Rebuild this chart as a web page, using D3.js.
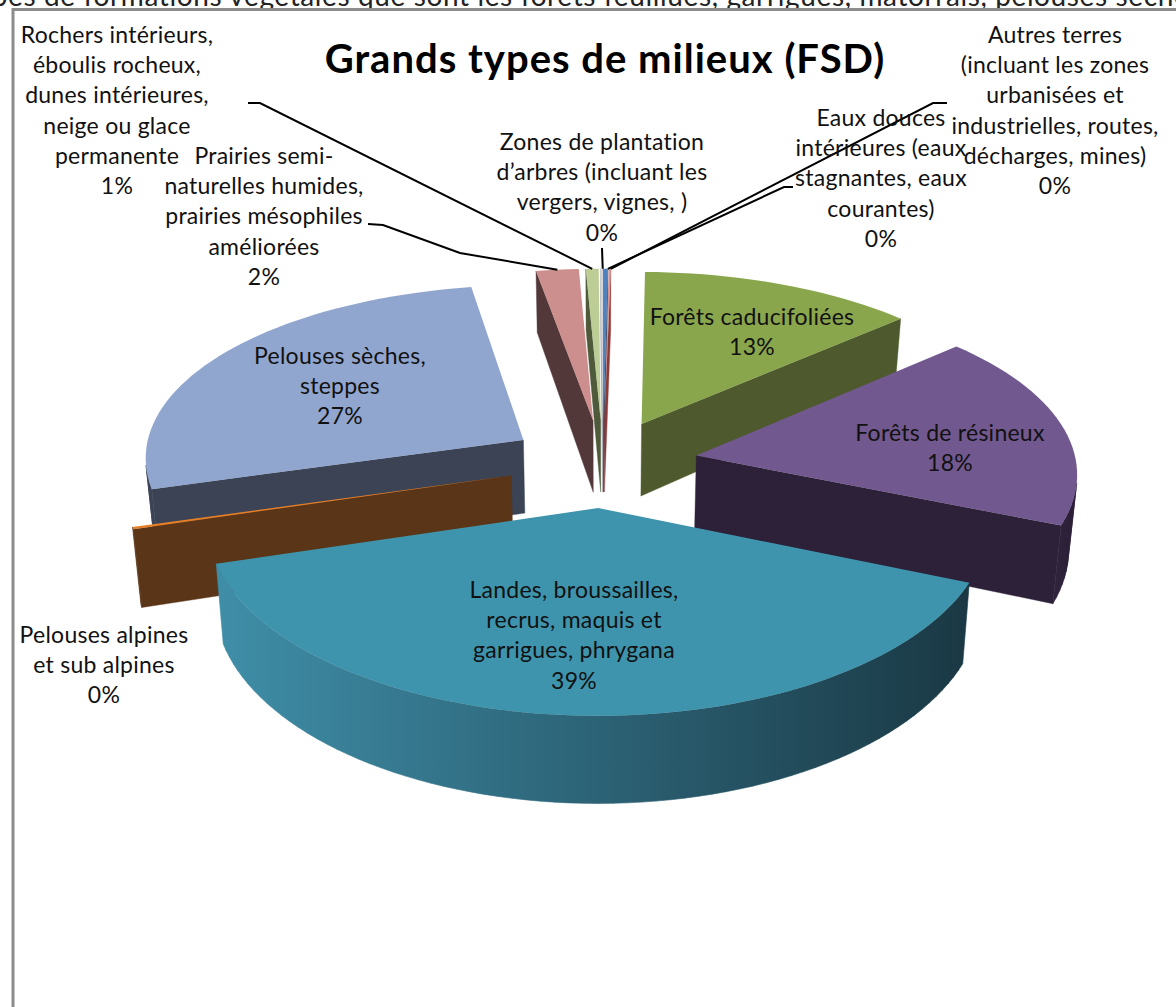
<!DOCTYPE html>
<html><head><meta charset="utf-8">
<script src="https://cdn.jsdelivr.net/npm/d3@7"></script>
<style>html,body{margin:0;padding:0;background:#fff;overflow:hidden}svg{display:block}</style>
</head><body><div id="c"></div>
<script>
const categories = ["Eaux douces","Autres terres","Forêts caducifoliées","Forêts de résineux","Landes","Pelouses alpines","Pelouses sèches","Prairies","Rochers","Zones de plantation"];
const values = [0.2,0.1,13.0,18.0,39.0,0.2,26.8,2.0,0.6,0.1];
const percentLabels = ["0%","0%","13%","18%","39%","0%","27%","2%","1%","0%"];
const labelLines = [
 ["Eaux douces","intérieures (eaux","stagnantes, eaux","courantes)"],
 ["Autres terres","(incluant les zones","urbanisées et","industrielles, routes,","décharges, mines)"],
 ["Forêts caducifoliées"],
 ["Forêts de résineux"],
 ["Landes, broussailles,","recrus, maquis et","garrigues, phrygana"],
 ["Pelouses alpines","et sub alpines"],
 ["Pelouses sèches,","steppes"],
 ["Prairies semi-","naturelles humides,","prairies mésophiles","améliorées"],
 ["Rochers intérieurs,","éboulis rocheux,","dunes intérieures,","neige ou glace","permanente"],
 ["Zones de plantation","d’arbres (incluant les","vergers, vignes, )"]
];
const topColors = ["#4f81bd","#d99694","#8aa64d","#71588f","#3f94ad","#e57f26","#91a6ce","#cd8f8d","#bccd95","#d3d3dc"];
const radialColors = ["#2c4768","#8c3a38","#4e5a2d","#2d2139","#1d4350","#5a3518","#3b4355","#53383a","#4f5a3a","#a4a4ae"];
const wallColorsL = ["#2c4768","#8c3a38","#4e5a2d","#30233d","#3f8ea8","#5a3518","#3b4355","#53383a","#4f5a3a","#a4a4ae"];
const wallColorsR = ["#2c4768","#8c3a38","#4e5a2d","#2a1f36","#1a3844","#5a3518","#3b4355","#53383a","#4f5a3a","#a4a4ae"];
const title = "Grands types de milieux (FSD)";
const cutText = "types de formations végétales que sont les forêts feuillues, garrigues, matorrals, pelouses sèches";

const W=1176,H=1007;
const cx=603,cy=463,Rpx=380,Ry=378,k=0.465,persp=0.105,perspX=0.088,explode=0.25,xShrink=0.982;
const xS=d3.scaleLinear([-1,1],[cx-Rpx,cx+Rpx]);
const yS=d3.scaleLinear([-1,1],[cy+k*Ry,cy-k*Ry]);
const depth=d3.scaleLinear([-1,1],[85,64]);
function project(X,Y,top){
  const s=1/(1+persp*Y), sx=1/(1+perspX*Y);
  let x=xS(X*sx),y=yS(Y*s);
  if(!top){x=cx+(x-cx)*xShrink;y+=depth(Y);}
  return [x,y];
}
const svg=d3.select("#c").append("svg").attr("width",W).attr("height",H).attr("viewBox",[0,0,W,H]);
const defs=svg.append("defs");
const line=d3.line();
const arcs=d3.pie().sort(null).startAngle(0).endAngle(2*Math.PI)(values);

const slices=arcs.map(a=>{
  const mid=(a.startAngle+a.endAngle)/2;
  const ox=explode*Math.sin(mid),oy=explode*Math.cos(mid);
  const n=Math.max(1,Math.ceil((a.endAngle-a.startAngle)/(Math.PI/90)));
  const rim=d3.range(n+1).map(i=>{
    const t=a.startAngle+(a.endAngle-a.startAngle)*i/n;
    return [ox+Math.sin(t),oy+Math.cos(t)];
  });
  return {i:a.index,mid,apex:[ox,oy],rim,order:oy};
}).sort((p,q)=>q.order-p.order);

svg.append("text").text(cutText).attr("x",-34).attr("y",6)
  .attr("font-family","'Lato',sans-serif").attr("font-size",28).attr("letter-spacing",0.62).attr("fill","#222");

const g=svg.append("g");
function quad(P,Q){
  const a=project(P[0],P[1],true),b=project(Q[0],Q[1],true),c=project(Q[0],Q[1],false),d=project(P[0],P[1],false);
  return [a,b,c,d];
}
const visible=q=>d3.polygonArea(q)>0;
slices.forEach(sl=>{
  const gs=g.append("g").attr("class","slice");
  const boundaryStart=sl.rim[0], boundaryEnd=sl.rim[sl.rim.length-1];
  [[sl.apex,boundaryStart],[boundaryEnd,sl.apex]].forEach(([P,Q])=>{
    const q=quad(P,Q);
    if(visible(q)) gs.append("path").attr("d",line(q)+"Z").attr("fill",radialColors[sl.i]).attr("stroke",radialColors[sl.i]).attr("stroke-width",0.4);
  });
  const quads=d3.pairs(sl.rim).map(([P,Q])=>quad(P,Q)).filter(visible);
  if(quads.length){
    const id="w"+sl.i;
    const gr=defs.append("linearGradient").attr("id",id);
    gr.append("stop").attr("offset",0).attr("stop-color",wallColorsL[sl.i]);
    gr.append("stop").attr("offset",1).attr("stop-color",wallColorsR[sl.i]);
    gs.append("path").attr("d",quads.map(q=>line(q)+"Z").join("")).attr("fill",`url(#${id})`).attr("stroke",`url(#${id})`).attr("stroke-width",0.6);
  }
  const pts=[sl.apex,...sl.rim].map(p=>project(p[0],p[1],true));
  gs.append("path").attr("d",line(pts)+"Z").attr("fill",topColors[sl.i]);
});

svg.append("path").attr("d",line([[W,9.5],[13,9.5],[13,H]])).attr("fill","none").attr("stroke","#8c8c8c").attr("stroke-width",3);

const rimTop=i=>{const s=slices.find(d=>d.i===i);const m=s.rim[Math.floor(s.rim.length/2)];return project(m[0],m[1],true);};
const leaders=[
 {i:8,via:[[248,103],[260,103]]},
 {i:7,via:[[368,224],[383,225],[460,253]]},
 {i:9,via:[[602,248]]},
 {i:0,via:[[793,187],[784,187]]},
 {i:1,via:[[947,103],[933,103]]}
];
leaders.forEach(l=>{
  svg.append("path").attr("d",line([...l.via,rimTop(l.i)])).attr("fill","none").attr("stroke","#000").attr("stroke-width",2);
});

const labelAnchors={0:[881,118],1:[1055,35],2:[752,317],3:[950,433],4:[574,590],5:[104,635],6:[340,356],7:[264,156],8:[117,35],9:[602,142]};
const fs=23,lh=30.2;
labelLines.forEach((lines,i)=>{
  const [x,y]=labelAnchors[i];
  const t=svg.append("text").attr("text-anchor","middle").attr("font-family","'Lato',sans-serif").attr("font-size",fs).attr("letter-spacing",0.25).attr("fill","#111");
  [...lines,percentLabels[i]].forEach((s,j)=>{
    t.append("tspan").attr("x",x).attr("y",y+j*lh+8).text(s);
  });
});
svg.append("text").text(title).attr("x",605).attr("y",73).attr("text-anchor","middle")
  .attr("font-family","'Lato',sans-serif").attr("font-weight",700).attr("font-size",40).attr("letter-spacing",1).attr("fill","#000");
</script></body></html>
